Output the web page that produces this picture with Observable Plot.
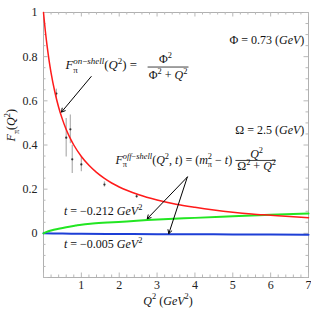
<!DOCTYPE html>
<html><head><meta charset="utf-8">
<script src="https://cdn.jsdelivr.net/npm/d3@7"></script>
<script src="https://cdn.jsdelivr.net/npm/@observablehq/plot@0.6"></script>
<style>
body{margin:0;background:#fff}
svg{display:block}
svg text, svg tspan{font-family:"Liberation Serif", "DejaVu Serif", serif !important;}
</style>
</head><body><div id="chart"></div>
<script>
// On-shell form factor curve (red)
const onShellQ2 = [0,0.025,0.05,0.1,0.15,0.2,0.3,0.4,0.5,0.6,0.7,0.8,1.0,1.2,1.4,1.6,1.8,2.0,2.5,3,3.5,4,4.5,5,5.5,6,6.5,7];
const onShellF  = [1,0.955,0.914,0.842,0.780,0.727,0.640,0.571,0.516,0.470,0.432,0.400,0.348,0.308,0.276,0.250,0.228,0.210,0.176,0.151,0.132,0.118,0.106,0.096,0.088,0.082,0.076,0.071];
// Off-shell, t = -0.212 GeV^2 (green)
const offAQ2 = [0,0.05,0.1,0.2,0.4,0.6,0.85,1.0,1.3,1.7,2.2,2.74,3.3,4,5,6,7];
const offAF  = [0,0.004,0.008,0.013,0.021,0.028,0.035,0.039,0.044,0.049,0.054,0.060,0.065,0.070,0.077,0.084,0.090];
// Off-shell, t = -0.005 GeV^2 (blue)
const offBQ2 = [0,0.5,1,2,3,4,5,6,7];
const offBF  = [0,-0.001,-0.002,-0.003,-0.004,-0.004,-0.005,-0.005,-0.006];
// Experimental points
const dataQ2  = [0.34,0.60,0.71,0.76,1.00,1.61,2.46];
const dataF   = [0.633,0.433,0.471,0.335,0.312,0.221,0.168];
const dataErr = [0.02,0.087,0.065,0.064,0.033,0.012,0.01];
// Ticks
const xTickLabels = [1,2,3,4,5,6,7];
const yTickLabels = [0,0.2,0.4,0.6,0.8,1];
const xMajor = [0,1,2,3,4,5,6,7];
const xMinor = d3.range(0,7.001,0.2).filter(v=>Math.abs(v-Math.round(v))>1e-6);
const yMajor = [-0.2,0,0.2,0.4,0.6,0.8,1];
const yMinor = d3.range(-0.2,1.001,0.05).filter(v=>Math.abs(v*5-Math.round(v*5))>1e-6);
// Annotations
const annoText   = ["F_{π}^{on−shell}(Q^{2}) = ", "Φ^{2}", "Φ^{2} + Q^{2}",
                    "F_{π}^{off−shell}(Q^{2}, t) = (m_{π}^{2} − t)", "Q^{2}", "Ω^{2} + Q^{2}",
                    "Φ = 0.73 (GeV)", "Ω = 2.5 (GeV)", "t = −0.212 GeV^{2}", "t = −0.005 GeV^{2}"];
const annoX      = [0.58, 3.22, 3.29, 1.90, 5.63, 5.63, 6.89, 6.89, 0.54, 0.54];
const annoY      = [0.762, 0.79, 0.717, 0.332, 0.36, 0.303, 0.873, 0.466, 0.0995, -0.05];
const annoAnchor = ["start","middle","middle","start","middle","middle","end","end","start","start"];
const annoSize   = [12.8, 12, 12, 12, 12, 12, 12, 12, 12, 12];
const fracX1 = [2.75, 5.07], fracX2 = [3.83, 6.13], fracY = [0.753, 0.330];
const arrowX1 = [1.26, 3.80, 3.80], arrowY1 = [0.710, 0.255, 0.255];
const arrowX2 = [0.475, 2.74, 3.31], arrowY2 = [0.549, 0.066, -0.001];
const xLabel = "Q^{2} (GeV^{2})", yLabel = "F_{π}(Q^{2})";

const red = onShellQ2.map((q,i)=>({q, f:onShellF[i]}));
const green = offAQ2.map((q,i)=>({q, f:offAF[i]}));
const blue = offBQ2.map((q,i)=>({q, f:offBF[i]}));
const pts = dataQ2.map((q,i)=>({q, f:dataF[i], lo:dataF[i]-dataErr[i], hi:dataF[i]+dataErr[i]}));
const anno = annoText.map((t,i)=>({t, x:annoX[i], y:annoY[i], a:annoAnchor[i], s:annoSize[i]}));
const fracs = fracX1.map((x1,i)=>({x1, x2:fracX2[i], y:fracY[i]}));
const arrows = arrowX1.map((x1,i)=>({x1, y1:arrowY1[i], x2:arrowX2[i], y2:arrowY2[i]}));

const W = 311, H = 311, mL = 43, mR = 3, mT = 12, mB = 34;
const pw = W - mL - mR, ph = H - mT - mB;
const tickC = "#b8b8b8";
const FONT = "'Liberation Serif', serif";
const textMarks = anno.map(d =>
  Plot.text([d], {x:"x", y:"y", text:"t", textAnchor:d.a, fontSize:d.s, fontFamily: FONT, fill:"#111"}));

const plot = Plot.plot({
  width: W, height: H, marginLeft: mL, marginRight: mR, marginTop: mT, marginBottom: mB,
  style: {fontFamily: FONT, fontSize: "12px", background: "#fff", color: "#222"},
  x: {domain: [0, 7]},
  y: {domain: [-0.2, 1]},
  marks: [
    Plot.frame({stroke: "#b0b0b0"}),
    // inward ticks on all four sides
    Plot.ruleX(xMajor, {x: d=>d, insetTop: ph-4.5, stroke: tickC}),
    Plot.ruleX(xMinor, {x: d=>d, insetTop: ph-2.5, stroke: tickC}),
    Plot.ruleX(xMajor, {x: d=>d, insetBottom: ph-4.5, stroke: tickC}),
    Plot.ruleX(xMinor, {x: d=>d, insetBottom: ph-2.5, stroke: tickC}),
    Plot.ruleY(yMajor, {y: d=>d, insetRight: pw-4.5, stroke: tickC}),
    Plot.ruleY(yMinor, {y: d=>d, insetRight: pw-2.5, stroke: tickC}),
    Plot.ruleY(yMajor, {y: d=>d, insetLeft: pw-4.5, stroke: tickC}),
    Plot.ruleY(yMinor, {y: d=>d, insetLeft: pw-2.5, stroke: tickC}),
    Plot.axisX(xTickLabels, {tickSize: 0, tickPadding: 3, fontSize: 12, fontFamily: FONT, label: null, tickFormat: d=>String(d)}),
    Plot.axisY(yTickLabels, {tickSize: 0, tickPadding: 6, fontSize: 12, fontFamily: FONT, label: null, tickFormat: d=>String(d)}),
    // error bars and points
    Plot.ruleX(pts, {x: "q", y1: "lo", y2: "hi", stroke: "#b5b5b5", strokeWidth: 1.3}),
    Plot.dot(pts, {x: "q", y: "f", r: 1.1, fill: "#333"}),
    // curves
    Plot.line(blue, {x: "q", y: "f", stroke: "#1d3fd6", strokeWidth: 2, curve: "monotone-x"}),
    Plot.line(green, {x: "q", y: "f", stroke: "#22e622", strokeWidth: 2, curve: "monotone-x"}),
    Plot.line(red, {x: "q", y: "f", stroke: "#ff1a1a", strokeWidth: 1.5, curve: "monotone-x"}),
    // arrows
    Plot.arrow(arrows, {x1: "x1", y1: "y1", x2: "x2", y2: "y2", stroke: "#000", strokeWidth: 1, headLength: 6}),
    // fraction bars
    Plot.link(fracs, {x1: "x1", x2: "x2", y1: "y", y2: "y", stroke: "#111", strokeWidth: 0.8}),
    ...textMarks,
    Plot.text([xLabel], {x: 3.29, frameAnchor: "bottom", dy: 27, text: d=>d, fontSize: 12, fontFamily: FONT, fill: "#111"}),
    Plot.text([yLabel], {y: 0.416, frameAnchor: "left", dx: -32, rotate: -90, text: d=>d, fontSize: 12, fontFamily: FONT, fill: "#111"})
  ]
});
document.getElementById("chart").appendChild(plot);

// Turn simple _{..} / ^{..} markup into real SVG sub/superscript tspans
function richify(el) {
  const src = el.textContent;
  if (!/[_^]\{|[A-Za-z]/.test(src)) return;
  const fs = parseFloat(getComputedStyle(el).fontSize) || 12;
  const segs = []; let buf = "";
  for (let i = 0; i < src.length;) {
    const c = src[i];
    if ((c === "_" || c === "^") && src[i+1] === "{") {
      if (buf) { segs.push({t: buf, lv: 0}); buf = ""; }
      const j = src.indexOf("}", i);
      segs.push({t: src.slice(i+2, j), lv: c === "_" ? 1 : -1});
      i = j + 1;
    } else { buf += c; i++; }
  }
  if (buf) segs.push({t: buf, lv: 0});
  el.textContent = "";
  const NS = "http://www.w3.org/2000/svg";
  let cur = 0, pendingDx = 0;
  segs.forEach((s, k) => {
    const target = s.lv === 1 ? 0.28*fs : s.lv === -1 ? -0.42*fs : 0;
    const size = s.lv ? 0.7*fs : fs;
    const stack = s.lv === -1 && k > 0 && segs[k-1].lv === 1;
    const runs = s.t.match(/[A-Za-z]+|[^A-Za-z]+/g) || [];
    const made = [];
    runs.forEach((r, ri) => {
      const ts = document.createElementNS(NS, "tspan");
      ts.textContent = r;
      ts.setAttribute("font-size", size);
      if (/[A-Za-z]/.test(r)) ts.setAttribute("font-style", "italic");
      if (ri === 0) {
        const d = target - cur;
        if (d) ts.setAttribute("dy", d);
        let dx = pendingDx;
        if (stack) dx -= segs[k-1].w;
        if (dx) ts.setAttribute("dx", dx);
        pendingDx = 0; cur = target;
      }
      el.appendChild(ts); made.push(ts);
    });
    s.w = made.reduce((a, t) => a + t.getComputedTextLength(), 0);
    if (stack && segs[k-1].w > s.w) pendingDx = segs[k-1].w - s.w;
  });
}
plot.querySelectorAll('g[aria-label="text"] text').forEach(richify);
</script>
</body></html>
